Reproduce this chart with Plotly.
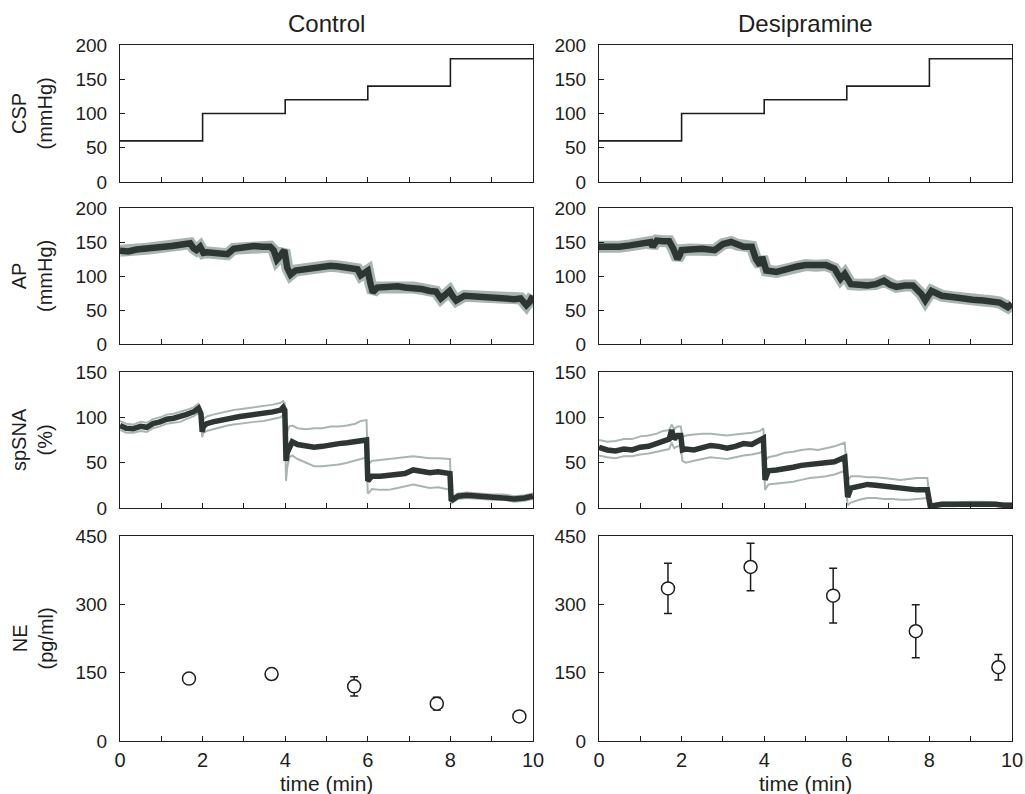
import plotly.graph_objects as go

# ---------------- data ----------------
# carotid sinus pressure steps (mmHg), same protocol in both groups
csp_t = [0, 2, 2, 4, 4, 6, 6, 8, 8, 10]
csp_v = [60, 60, 100, 100, 120, 120, 140, 140, 180, 180]

# arterial pressure (mmHg), mean trace
ap_ctl_t = [0, 0.2, 0.4, 0.65, 0.85, 1.05, 1.25, 1.46, 1.6, 1.7, 1.78, 1.85, 1.94, 2.02, 2.1, 2.3, 2.5,
            2.6, 2.75, 3.0, 3.24, 3.45, 3.64, 3.72, 3.8, 3.86, 3.92, 3.98, 4.05, 4.13, 4.25, 4.45, 4.7,
            4.9, 5.1, 5.3, 5.5, 5.67, 5.75, 5.83, 5.92, 6.0, 6.06, 6.12, 6.23, 6.45, 6.72, 6.9, 7.1,
            7.3, 7.5, 7.65, 7.77, 7.85, 7.98, 8.06, 8.14, 8.34, 8.55, 8.74, 8.95, 9.15, 9.35, 9.55,
            9.7, 9.84, 9.92, 10]
ap_ctl_v = [137, 136, 139, 140, 141, 143, 144, 146, 147, 148, 141, 138, 143, 134, 135, 134, 133,
            132, 140, 142, 144, 143, 143, 138, 124, 128, 133, 138, 112, 102, 108, 110, 112,
            114, 115, 114, 113, 112, 110, 101, 106, 108, 90, 76, 83, 84, 85, 83, 83,
            81, 78, 77, 67, 72, 78, 70, 64, 71, 70, 70, 69, 69, 68, 66,
            67, 57, 62, 71]

ap_dmi_t = [0, 0.25, 0.5, 0.75, 1.0, 1.15, 1.25, 1.3, 1.4, 1.55, 1.7, 1.8, 1.9, 1.95, 2.0, 2.2, 2.5,
            2.8, 3.0, 3.2, 3.35, 3.5, 3.7, 3.8, 3.9, 3.95, 4.0, 4.05, 4.3, 4.6, 4.8, 5.0, 5.25, 5.5,
            5.7, 5.85, 5.95, 6.02, 6.1, 6.3, 6.5, 6.7, 6.9, 7.05, 7.2, 7.4, 7.6, 7.8, 7.9, 8.05,
            8.3, 8.55, 8.8, 9.05, 9.3, 9.5, 9.7, 9.9, 10]
ap_dmi_v = [143, 142, 143, 145, 148, 149, 150, 143, 152, 151, 151, 140, 125, 130, 138, 139, 140,
            138, 147, 150, 146, 143, 143, 125, 116, 128, 118, 108, 106, 112, 114, 116, 115, 116,
            111, 96, 103, 95, 88, 87, 86, 88, 93, 87, 84, 86, 86, 74, 64, 78,
            71, 69, 66, 65, 64, 63, 61, 54, 59]

# splanchnic sympathetic nerve activity (%): mean with upper / lower SD
sna_ctl_t = [0, 0.15, 0.32, 0.5, 0.65, 0.8, 0.97, 1.13, 1.3, 1.46, 1.6, 1.78, 1.9, 1.96, 1.99,
             2.02, 2.1, 2.25, 2.43, 2.6, 2.75, 2.9, 3.08, 3.25, 3.48, 3.7, 3.89, 3.95, 3.99,
             4.02, 4.05, 4.1, 4.17, 4.3, 4.5, 4.7, 4.9, 5.1, 5.3, 5.5, 5.7, 5.83, 5.97,
             6.0, 6.05, 6.1, 6.3, 6.5, 6.72, 6.9, 7.1, 7.3, 7.5, 7.7, 7.93, 7.99,
             8.02, 8.18, 8.4, 8.74, 9.0, 9.3, 9.55, 9.8, 10]
sna_ctl_v = [91, 88, 87.5, 90, 89, 93, 95, 98, 99, 100.5, 103, 106, 110, 104, 84,
             90, 93, 95, 97, 99, 100, 101, 102, 103, 104, 106, 108, 111, 108,
             52, 61, 68, 73, 70, 68, 67, 68, 70, 71, 72, 73, 75, 75,
             30, 33, 35, 35, 36, 37, 38, 42, 40, 39, 40, 38, 38,
             8, 13, 14, 13, 12, 12, 10, 11, 13]
sna_ctl_hi = [96, 93, 92, 95, 94, 98, 100, 103, 104, 106, 108, 111, 115, 109, 90,
              98, 101, 103, 105, 107, 108, 109, 110, 111, 112, 114, 116, 118, 116,
              68, 84, 90, 91, 88, 87, 88, 88, 90, 90, 91, 93, 96, 97,
              45, 50, 52, 53, 54, 55, 56, 57, 56, 55, 55, 54, 54,
              11, 16, 17, 16, 15, 15, 13, 14, 16]
sna_ctl_lo = [86, 83, 83, 85, 84, 88, 90, 93, 94, 95, 98, 101, 105, 99, 78,
              83, 85, 87, 89, 91, 92, 93, 94, 95, 96, 98, 100, 103, 100,
              30, 45, 56, 58, 54, 50, 46, 46, 47, 48, 50, 52, 54, 56,
              16, 18, 21, 20, 20, 22, 24, 26, 24, 22, 23, 20, 20,
              5, 10, 11, 10, 9, 9, 7, 8, 10]

sna_dmi_t = [0, 0.2, 0.4, 0.6, 0.8, 1.0, 1.2, 1.4, 1.55, 1.7, 1.76, 1.82, 1.9, 1.98,
             2.02, 2.1, 2.3, 2.5, 2.7, 2.9, 3.1, 3.3, 3.5, 3.7, 3.9, 3.98,
             4.02, 4.1, 4.3, 4.5, 4.7, 4.9, 5.1, 5.3, 5.5, 5.7, 5.95,
             6.02, 6.1, 6.3, 6.5, 6.7, 6.9, 7.1, 7.3, 7.5, 7.7, 7.95,
             8.02, 8.3, 8.6, 9.0, 9.3, 9.6, 9.8, 10]
sna_dmi_v = [67, 64, 63, 65, 64, 67, 68, 71, 74, 76, 86, 76, 80, 80,
             64, 65, 64, 66, 69, 68, 66, 68, 71, 70, 74, 77,
             31, 41, 42, 43, 45, 47, 48, 48, 50, 51, 56,
             12, 22, 24, 26, 25, 24, 22, 22, 20, 20, 20,
             2, 4, 4, 5.5, 5, 4, 3, 3]
sna_dmi_hi = [75, 73, 74, 76, 76, 79, 80, 82, 85, 86, 92, 87, 90, 90,
              78, 80, 81, 82, 82, 81, 80, 81, 82, 83, 85, 88,
              52, 56, 58, 61, 62, 64, 65, 64, 66, 68, 72,
              30, 35, 35, 34, 34, 33, 32, 31, 32, 33, 33,
              4, 6, 6, 7, 7, 6, 5, 5]
sna_dmi_lo = [58, 56, 55, 57, 57, 59, 60, 62, 63, 65, 72, 66, 68, 68,
              52, 50, 52, 54, 56, 55, 54, 56, 58, 59, 61, 63,
              20, 26, 27, 28, 29, 31, 33, 34, 35, 37, 41,
              3, 6, 9, 11, 11, 10, 10, 9, 9, 10, 11,
              0.5, 2, 2, 3.5, 3, 2, 1.5, 1.5]

# plasma norepinephrine (pg/ml), mean and SE
ne_t = [1.67, 3.67, 5.67, 7.67, 9.67]
ne_ctl = [137, 147, 120, 82, 54]
ne_ctl_err = [4, 10, 21, 14, 3]
ne_dmi = [335, 382, 319, 241, 162]
ne_dmi_err = [55, 52, 60, 58, 28]

# ---------------- figure ----------------
W, H = 1025, 794
FONT = "Liberation Sans, Arial, Helvetica, sans-serif"
INK = "#1e1e1e"
DARK = "#2d3633"
LIGHT = "#a9b6b0"

# panel edges in pixels
col_px = [(120, 533), (599, 1012)]
row_px = [(45, 182), (208, 344), (372, 508), (536, 741)]
y_ranges = [(0, 200, 50), (0, 200, 50), (0, 150, 50), (0, 450, 150)]


def px_x(x):
    return x / W


def px_y(y):
    return 1 - y / H


def xdom(c):
    a, b = col_px[c]
    return [px_x(a), px_x(b)]


def ydom(r):
    a, b = row_px[r]
    return [px_y(b), px_y(a)]


fig = go.Figure()


def axis_id(r, c):
    return r * 2 + c + 1


def refs(r, c):
    n = axis_id(r, c)
    return ("x" if n == 1 else f"x{n}"), ("y" if n == 1 else f"y{n}")


def add(tr, r, c):
    xr, yr = refs(r, c)
    tr.update(xaxis=xr, yaxis=yr, showlegend=False, hoverinfo="skip")
    fig.add_trace(tr)


for c in range(2):
    # CSP
    add(go.Scatter(x=csp_t, y=csp_v, mode="lines", line=dict(color=INK, width=1.6)), 0, c)

# AP: light SD halo under a thick dark mean trace
for c, (t, v) in enumerate([(ap_ctl_t, ap_ctl_v), (ap_dmi_t, ap_dmi_v)]):
    add(go.Scatter(x=t, y=v, mode="lines", line=dict(color=LIGHT, width=12)), 1, c)
    add(go.Scatter(x=t, y=v, mode="lines", line=dict(color=DARK, width=6.5)), 1, c)

# spSNA: SD lines + mean
for c, (t, v, hi, lo) in enumerate([(sna_ctl_t, sna_ctl_v, sna_ctl_hi, sna_ctl_lo),
                                    (sna_dmi_t, sna_dmi_v, sna_dmi_hi, sna_dmi_lo)]):
    add(go.Scatter(x=t, y=hi, mode="lines", line=dict(color=LIGHT, width=2)), 2, c)
    add(go.Scatter(x=t, y=lo, mode="lines", line=dict(color=LIGHT, width=2)), 2, c)
    add(go.Scatter(x=t, y=v, mode="lines", line=dict(color=DARK, width=5.5)), 2, c)

# NE: open circles with error bars
for c, (v, e) in enumerate([(ne_ctl, ne_ctl_err), (ne_dmi, ne_dmi_err)]):
    add(go.Scatter(x=ne_t, y=v, mode="markers",
                   marker=dict(symbol="circle", size=13, color="white",
                               line=dict(color=INK, width=1.5)),
                   error_y=dict(type="data", array=e, visible=True,
                                color=INK, thickness=1.5, width=4)), 3, c)

axis_common = dict(showline=True, mirror=True, linecolor=INK, linewidth=1.2,
                   ticks="inside", ticklen=5, tickwidth=1.2, tickcolor=INK,
                   showgrid=False, zeroline=False, automargin=False,
                   tickfont=dict(family=FONT, size=19, color=INK))

layout = {}
for r in range(4):
    lo, hi, step = y_ranges[r]
    for c in range(2):
        n = axis_id(r, c)
        xk = "xaxis" if n == 1 else f"xaxis{n}"
        yk = "yaxis" if n == 1 else f"yaxis{n}"
        xr, yr = refs(r, c)
        layout[xk] = dict(axis_common, domain=xdom(c), range=[0, 10], anchor=yr,
                          tickvals=list(range(0, 11)),
                          ticktext=[str(i) if i % 2 == 0 else "" for i in range(0, 11)],
                          showticklabels=(r == 3), ticklabelstandoff=1,
                          tickfont=dict(family=FONT, size=20, color=INK))
        layout[yk] = dict(axis_common, domain=ydom(r), range=[lo, hi], anchor=xr,
                          tickvals=list(range(lo, hi + 1, step)),
                          ticklabelstandoff=8)

ann = []
for c, title in enumerate(["Control", "Desipramine"]):
    a, b = col_px[c]
    ann.append(dict(text=title, x=px_x((a + b) / 2), y=px_y(23), xref="paper", yref="paper",
                    showarrow=False, xanchor="center", yanchor="middle",
                    font=dict(family=FONT, size=24, color=INK)))
    ann.append(dict(text="time (min)", x=px_x((a + b) / 2), y=px_y(783), xref="paper",
                    yref="paper", showarrow=False, xanchor="center", yanchor="middle",
                    font=dict(family=FONT, size=21, color=INK)))

for r, lab in enumerate(["CSP<br>(mmHg)", "AP<br>(mmHg)", "spSNA<br>(%)", "NE<br>(pg/ml)"]):
    a, b = row_px[r]
    ann.append(dict(text=lab, x=px_x(32), y=px_y((a + b) / 2), xref="paper", yref="paper",
                    showarrow=False, xanchor="center", yanchor="middle", textangle=-90,
                    font=dict(family=FONT, size=20, color=INK)))

fig.update_layout(template="none", width=W, height=H, margin=dict(l=0, r=0, t=0, b=0),
                  paper_bgcolor="white", plot_bgcolor="white",
                  annotations=ann, **layout)

fig.write_html("out.html")
